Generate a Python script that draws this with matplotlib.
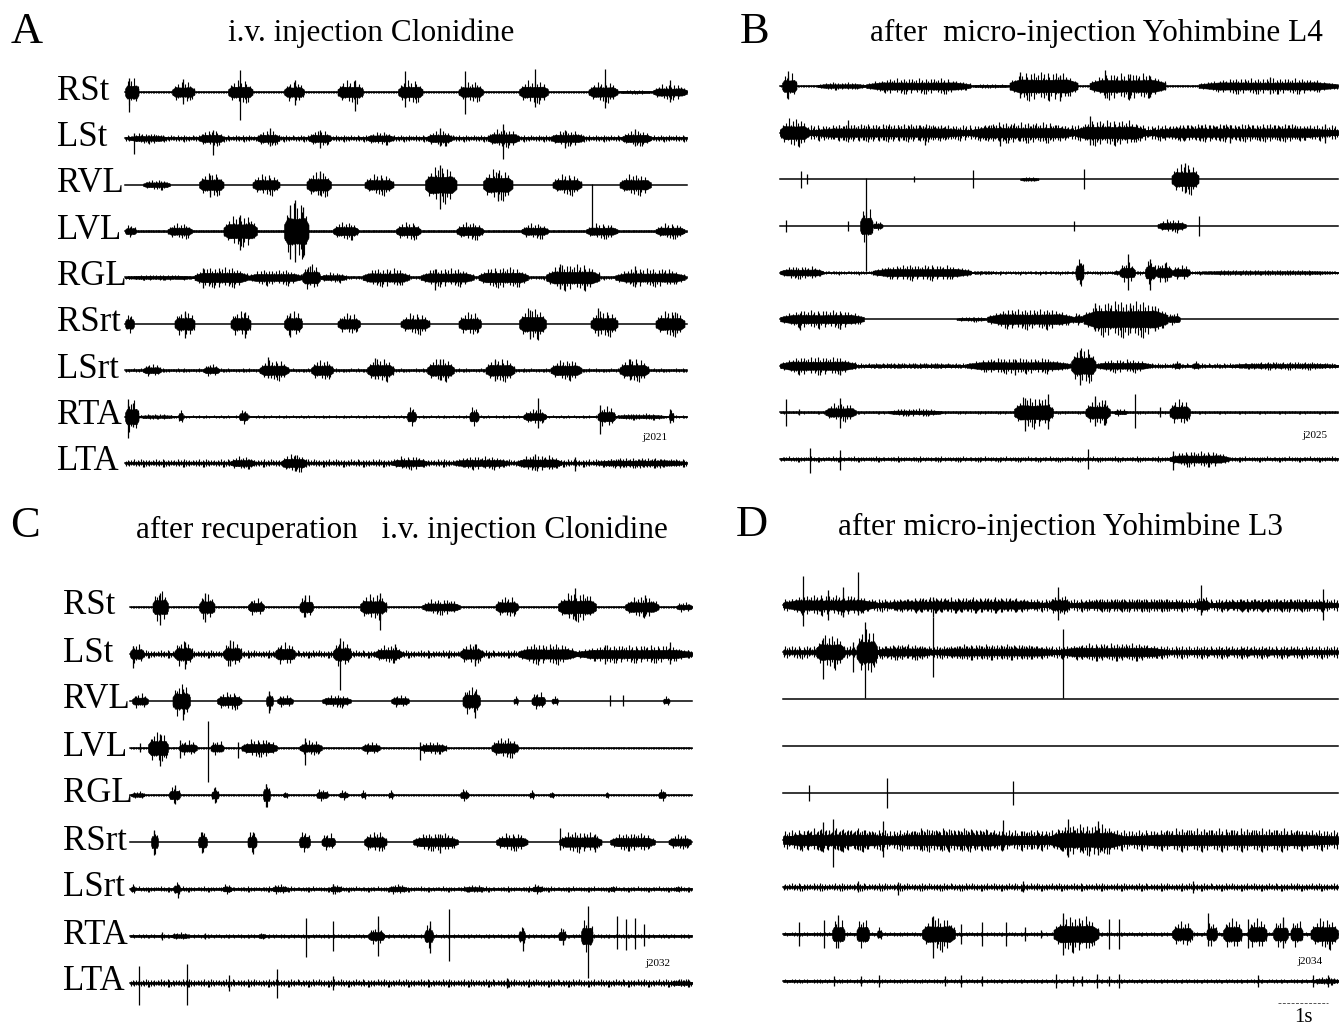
import matplotlib
matplotlib.use("Agg")
import matplotlib.pyplot as plt

plt.rcParams["font.family"] = ["Liberation Serif", "DejaVu Serif"]

W, H = 1342, 1026

channels = ["RSt", "LSt", "RVL", "LVL", "RGL", "RSrt", "LSrt", "RTA", "LTA"]

# record length of each panel, seconds
A_duration = 11.24
B_duration = 11.16
C_duration = 11.24
D_duration = 11.1

# background (tonic) activity of each channel, half height in px
A_tonic = [1.0, 2.5, 0.8, 1.0, 1.5, 0.8, 1.5, 1.0, 3.0]
B_tonic = [1.0, 6.0, 0.7, 0.7, 1.5, 0.7, 2.0, 1.0, 2.0]
C_tonic = [1.0, 3.0, 0.8, 1.0, 1.0, 0.8, 2.0, 1.5, 3.0]
D_tonic = [5.0, 5.0, 0.8, 0.8, 0.8, 8.0, 3.0, 1.5, 1.5]

# bursts: (start s, end s, half amplitude px), one list per channel
A_bursts = [
    [(0.0, 0.27, 11), (0.94, 1.39, 8), (2.06, 2.55, 9), (3.18, 3.58, 8), (4.25, 4.76, 9),
     (5.46, 5.95, 9), (6.67, 7.16, 8), (7.88, 8.46, 9), (9.27, 9.85, 8), (9.85, 10.56, 1.5),
     (10.56, 11.24, 6)],
    [(0.09, 0.81, 4), (1.48, 1.97, 6), (2.64, 3.09, 6), (3.67, 4.12, 6), (4.84, 5.37, 5),
     (6.04, 6.54, 6), (7.25, 7.88, 7), (8.51, 9.18, 6), (9.94, 10.52, 6)],
    [(0.36, 0.9, 4), (1.48, 1.97, 9), (2.55, 3.09, 8), (3.63, 4.12, 10), (4.79, 5.37, 8),
     (6.0, 6.63, 14), (7.16, 7.75, 12), (8.55, 9.13, 8), (9.89, 10.52, 8)],
    [(0.0, 0.22, 5), (0.85, 1.34, 6), (1.97, 2.64, 12), (3.18, 3.67, 22), (4.16, 4.66, 7),
     (5.42, 5.91, 7), (6.63, 7.16, 7), (7.93, 8.46, 6), (9.22, 9.85, 6), (10.61, 11.19, 6)],
    [(0.0, 1.39, 2), (1.39, 2.46, 8), (2.46, 3.54, 6), (3.54, 3.9, 10), (3.9, 4.43, 4),
     (4.75, 5.69, 7), (5.91, 6.98, 7), (7.07, 8.06, 8), (8.42, 9.49, 10), (9.8, 11.2, 7)],
    [(0.0, 0.18, 8), (0.99, 1.39, 10), (2.11, 2.51, 10), (3.18, 3.54, 10), (4.25, 4.7, 8),
     (5.51, 6.09, 8), (6.67, 7.12, 9), (7.88, 8.42, 12), (9.31, 9.85, 10), (10.61, 11.19, 10)],
    [(0.36, 0.72, 5), (1.57, 1.88, 5), (2.69, 3.27, 8), (3.72, 4.16, 8), (4.84, 5.37, 9),
     (6.04, 6.58, 9), (7.21, 7.79, 9), (8.51, 9.13, 8), (9.89, 10.47, 9)],
    [(0.0, 0.27, 13), (0.27, 1.0, 2), (1.07, 1.16, 6), (2.28, 2.46, 6), (5.64, 5.82, 8),
     (6.89, 7.07, 8), (7.97, 8.42, 6), (9.45, 9.8, 8), (9.8, 10.8, 2.5), (10.88, 10.97, 6)],
    [(2.1, 2.6, 5), (3.13, 3.63, 7), (5.33, 6.04, 5), (6.58, 7.66, 5), (7.84, 8.73, 6),
     (9.4, 11.2, 4)],
]
B_bursts = [
    [(0.04, 0.33, 10), (0.74, 1.72, 3), (1.72, 3.81, 6), (3.81, 4.59, 1.5), (4.59, 5.95, 11),
     (6.19, 7.71, 10), (8.37, 11.16, 6)],
    [(0.0, 0.57, 11), (0.57, 3.77, 7), (3.77, 5.91, 8), (5.91, 7.3, 10), (7.3, 11.16, 7)],
    [(4.8, 5.17, 2), (7.83, 8.37, 12)],
    [(1.6, 1.85, 14), (1.85, 2.05, 4), (7.55, 8.12, 5)],
    [(0.0, 0.86, 5), (1.85, 3.82, 6), (3.82, 4.31, 1.5), (5.91, 6.07, 12), (6.66, 6.83, 2),
     (6.79, 7.1, 8), (7.3, 7.51, 10), (7.51, 7.84, 8), (7.84, 8.2, 6), (8.2, 11.16, 2)],
    [(0.0, 1.68, 7), (3.53, 4.14, 2), (4.14, 5.87, 8), (5.87, 6.07, 5), (6.07, 7.75, 14),
     (7.75, 8.0, 5)],
    [(0.0, 1.52, 7), (1.52, 3.73, 2), (3.73, 5.82, 6), (5.82, 6.31, 14), (6.31, 7.42, 5),
     (7.88, 8.0, 4), (8.25, 8.37, 4), (9.0, 11.16, 3)],
    [(0.9, 1.52, 7), (2.17, 3.24, 3), (4.68, 5.46, 12), (6.11, 6.6, 10), (6.68, 6.93, 3),
     (7.79, 8.2, 10)],
    [(7.79, 8.98, 6)],
]
C_bursts = [
    [(0.45, 0.76, 12), (1.38, 1.69, 10), (2.36, 2.68, 7), (3.39, 3.66, 9), (4.6, 5.13, 10),
     (5.84, 6.6, 6), (7.31, 7.76, 8), (8.56, 9.32, 11), (9.9, 10.57, 8), (10.93, 11.24, 4)],
    [(0.0, 0.27, 8), (0.89, 1.25, 10), (1.87, 2.23, 10), (2.9, 3.3, 9), (4.06, 4.42, 10),
     (4.9, 5.44, 7), (6.6, 7.05, 8), (7.76, 8.92, 8), (8.92, 11.24, 7)],
    [(0.04, 0.36, 6), (0.85, 1.2, 13), (1.74, 2.23, 7), (2.72, 2.86, 8), (2.94, 3.26, 5),
     (3.84, 4.42, 5), (5.22, 5.58, 5), (6.65, 7.0, 11), (7.67, 7.76, 4), (8.03, 8.3, 7),
     (8.43, 8.56, 4), (10.66, 10.79, 4)],
    [(0.36, 0.76, 12), (0.98, 1.34, 6), (1.61, 1.87, 6), (2.23, 2.94, 7), (3.39, 3.84, 6),
     (4.64, 5.0, 5), (5.8, 6.33, 5), (7.23, 7.76, 8)],
    [(0.02, 0.29, 3), (0.78, 1.0, 7), (1.63, 1.77, 6), (2.66, 2.8, 10), (3.06, 3.15, 3),
     (3.73, 3.96, 5), (4.18, 4.36, 4), (4.62, 4.71, 4), (5.17, 5.26, 4), (6.6, 6.77, 5),
     (7.99, 8.08, 4), (8.39, 8.48, 3), (9.51, 9.56, 3), (10.57, 10.71, 5)],
    [(0.42, 0.56, 10), (1.36, 1.54, 9), (2.35, 2.53, 9), (3.38, 3.6, 9), (3.83, 4.1, 7),
     (4.68, 5.13, 8), (5.66, 6.56, 7), (7.32, 7.95, 7), (8.58, 9.43, 8), (9.6, 10.5, 7),
     (10.77, 11.22, 6)],
    [(0.02, 0.1, 4), (0.87, 1.0, 6), (1.85, 2.03, 4), (2.84, 3.15, 4), (4.0, 4.23, 4),
     (5.17, 5.53, 4), (6.65, 7.1, 3), (8.04, 8.26, 4), (9.6, 9.7, 3), (10.9, 11.0, 3)],
    [(0.82, 1.18, 3), (2.57, 2.71, 3), (4.77, 5.08, 7), (5.89, 6.06, 10), (7.77, 7.9, 8),
     (8.57, 8.71, 7), (9.02, 9.25, 14)],
    [(10.8, 11.24, 3)],
]
D_bursts = [
    [(0.0, 1.88, 8), (1.88, 5.32, 6), (5.32, 5.73, 8), (5.73, 8.27, 5), (8.27, 8.52, 7),
     (8.52, 11.1, 5)],
    [(0.66, 1.23, 13), (1.47, 1.88, 18), (1.88, 3.0, 6), (3.0, 5.5, 6), (5.5, 7.7, 7),
     (7.7, 11.1, 3)],
    [],
    [],
    [],
    [(0.0, 2.13, 9), (2.13, 4.59, 9), (4.59, 5.32, 7), (5.32, 6.8, 12), (6.8, 11.1, 9)],
    [],
    [(0.98, 1.23, 12), (1.47, 1.72, 12), (1.88, 1.97, 6), (2.78, 3.44, 13), (5.41, 6.31, 14),
     (7.78, 8.19, 10), (8.47, 8.68, 10), (8.8, 9.17, 12), (9.3, 9.67, 12), (9.8, 10.1, 11),
     (10.15, 10.39, 11), (10.55, 11.1, 12)],
    [(10.6, 11.1, 3)],
]

# single large deflections: (time s, up px, down px)
A_spikes = [
    [(0.08, 14, 20), (1.15, 13, 12), (2.3, 22, 28), (3.4, 12, 13), (4.6, 12, 19), (5.6, 21, 15),
     (6.8, 21, 22), (8.2, 23, 15), (9.6, 23, 16), (10.9, 12, 10)],
    [(0.18, 5, 16), (1.75, 8, 17), (2.9, 10, 8), (3.9, 8, 10), (6.3, 10, 8), (7.55, 14, 21),
     (8.8, 8, 10), (10.2, 9, 8)],
    [(1.7, 10, 12), (3.9, 14, 10), (6.3, 20, 24), (7.45, 12, 16), (9.33, 1, 47)],
    [(2.3, 16, 19), (3.3, 26, 28), (3.4, 31, 31), (3.55, 24, 26)],
    [(1.55, 9, 11), (3.7, 11, 8), (6.2, 8, 13), (8.7, 13, 12), (10.2, 11, 9)],
    [(1.2, 12, 14), (2.4, 12, 14), (3.3, 11, 13), (8.1, 14, 15), (9.45, 16, 12), (11.0, 12, 10)],
    [(2.85, 13, 8), (5.0, 12, 9), (6.3, 11, 10), (7.4, 10, 11), (10.1, 11, 10)],
    [(0.05, 18, 21), (0.15, 14, 10), (8.25, 19, 11), (9.5, 12, 17), (10.9, 8, 6)],
    [(3.4, 8, 8), (8.2, 9, 7), (9.0, 6, 8)],
]
B_spikes = [
    [(0.15, 15, 13), (4.8, 14, 12), (5.6, 10, 15), (6.5, 16, 12), (7.0, 12, 12), (7.4, 10, 11),
     (9.8, 9, 8)],
    [(1.35, 13, 6), (2.9, 6, 12), (4.4, 6, 13), (6.2, 17, 12), (9.0, 8, 10), (10.9, 9, 10)],
    [(0.41, 8, 9), (0.53, 5, 5), (2.67, 3, 3), (3.86, 9, 9), (6.07, 10, 10), (8.1, 16, 14)],
    [(0.12, 6, 6), (1.35, 5, 5), (1.72, 48, 45), (5.87, 5, 5), (8.37, 10, 10)],
    [(6.0, 10, 11), (6.95, 19, 17), (7.4, 14, 17), (7.7, 10, 9)],
    [(0.4, 6, 11), (1.2, 5, 10), (6.3, 16, 12), (7.0, 14, 14), (7.5, 13, 12)],
    [(1.2, 4, 9), (4.7, 7, 9), (6.0, 16, 19)],
    [(0.12, 13, 14), (0.37, 3, 3), (1.2, 14, 16), (4.9, 14, 19), (5.35, 18, 17), (6.3, 16, 14),
     (6.5, 12, 13), (7.1, 18, 16), (7.6, 5, 5)],
    [(0.6, 11, 14), (1.19, 9, 11), (6.15, 10, 10), (7.85, 8, 11)],
]
C_spikes = [
    [(0.6, 14, 18), (1.5, 14, 15), (3.5, 12, 10), (5.0, 14, 23), (8.9, 19, 13), (10.3, 12, 9)],
    [(0.05, 8, 14), (1.1, 12, 15), (2.0, 14, 12), (4.2, 16, 36), (5.3, 10, 6), (6.9, 10, 12),
     (9.5, 9, 10), (10.8, 12, 10)],
    [(1.05, 12, 19), (2.78, 10, 12), (6.9, 10, 17), (9.59, 6, 5), (9.86, 6, 5)],
    [(0.2, 5, 4), (0.6, 14, 18), (1.0, 8, 10), (1.55, 27, 34), (2.15, 6, 10), (3.5, 10, 17),
     (5.8, 6, 12)],
    [(0.9, 10, 9), (1.7, 8, 8), (2.72, 11, 12)],
    [(0.47, 12, 13), (1.43, 10, 11), (2.45, 10, 12), (6.2, 8, 11), (8.6, 14, 8), (9.3, 8, 10)],
    [(0.95, 5, 9), (4.05, 5, 5)],
    [(0.64, 4, 4), (1.5, 3, 3), (3.51, 18, 21), (4.05, 15, 15), (4.95, 20, 20), (6.0, 15, 17),
     (6.38, 27, 25), (7.85, 8, 15), (8.65, 7, 9), (9.15, 30, 42), (9.74, 20, 13), (9.92, 17, 14),
     (10.1, 18, 13), (10.28, 12, 10)],
    [(0.18, 17, 22), (1.14, 19, 22), (1.97, 8, 8), (2.93, 14, 15), (4.05, 7, 7), (7.54, 5, 5)],
]
D_spikes = [
    [(0.4, 29, 21), (0.9, 15, 15), (1.2, 18, 12), (1.5, 33, 10), (3.0, 8, 12), (5.5, 18, 15),
     (8.35, 20, 10), (10.8, 16, 15)],
    [(0.8, 14, 27), (1.4, 10, 20), (1.65, 30, 46), (3.0, 35, 25), (5.6, 23, 46)],
    [],
    [],
    [(0.53, 8, 8), (2.09, 15, 15), (4.6, 12, 12)],
    [(0.8, 18, 8), (1.0, 21, 27), (2.0, 19, 17), (4.4, 20, 10), (5.7, 21, 17), (6.3, 19, 15)],
    [(1.5, 6, 5), (2.3, 5, 8), (4.8, 6, 5), (8.2, 6, 6)],
    [(0.33, 12, 12), (0.82, 14, 14), (1.1, 19, 14), (3.0, 18, 24), (3.56, 10, 10), (3.97, 12, 12),
     (4.46, 12, 12), (4.83, 7, 7), (5.16, 4, 4), (5.6, 21, 21), (6.51, 15, 15), (6.72, 15, 15),
     (8.5, 21, 12), (9.3, 15, 14), (10.0, 17, 14)],
    [(1.02, 5, 5), (1.56, 5, 5), (1.92, 6, 6), (3.23, 5, 5), (3.56, 6, 6), (3.97, 5, 5),
     (5.45, 7, 7), (5.79, 5, 5), (5.98, 5, 5), (6.27, 7, 7), (6.51, 5, 5), (6.72, 7, 7),
     (9.5, 6, 6), (10.6, 6, 6), (10.9, 6, 6)],
]

# stroke pattern used to draw a burst as a bundle of vertical strokes (style only)
STROKE_UP = [0.65, 1.15, 0.8, 1.0, 0.55, 1.3, 0.7, 1.05, 0.6, 1.2, 0.85, 0.5, 1.1]
STROKE_DN = [0.9, 0.6, 1.25, 0.7, 1.1, 0.55, 1.0, 1.35, 0.65, 0.8, 1.15, 0.6]
STROKES_PER_S = 30

fig = plt.figure(figsize=(W / 100, H / 100), dpi=100)


def draw_activity(ax, off, s, e, a, taper=True):
    """Draw a stretch of EMG activity as a solid core plus vertical strokes."""
    w = e - s
    n = max(3, int(w * STROKES_PER_S))
    xs, lo, hi = [], [], []
    for j in range(n):
        u = (j + 0.5) / n
        f = min(1.0, 0.35 + 2.6 * min(u, 1 - u)) if taper else 1.0
        xs.append(s + u * w)
        hi.append(off + a * f * STROKE_UP[j % len(STROKE_UP)])
        lo.append(off - a * f * STROKE_DN[(j * 5) % len(STROKE_DN)])
    ax.vlines(xs, lo, hi, color="black", lw=0.8, clip_on=False)
    k = [0.3, 0.6, 0.55, 0.6, 0.3] if taper else [0.45] * 5
    px = [s, s + 0.15 * w, s + 0.5 * w, e - 0.15 * w, e]
    ax.fill_between(px, [off - a * f for f in k], [off + a * f for f in k],
                    color="black", lw=0.4, clip_on=False)


def draw_panel(x0, x1, y_first, y_last, duration, tonic, bursts, spikes):
    """Draw the nine traces of one panel; y units are pixels, row 0 at 0."""
    sp = (y_last - y_first) / 8
    top = y_first - sp
    bottom = y_last + sp
    ax = fig.add_axes([x0 / W, 1 - bottom / H, (x1 - x0) / W, (bottom - top) / H])
    ax.set_xlim(0, duration)
    ax.set_ylim(-(bottom - y_first), y_first - top)
    ax.axis("off")
    for i in range(len(channels)):
        off = -i * sp
        ax.plot([0, duration], [off, off], color="black", lw=1.1, clip_on=False)
        if tonic[i] > 0.9:
            draw_activity(ax, off, 0, duration, tonic[i], taper=False)
        for s, e, a in bursts[i]:
            draw_activity(ax, off, s, e, a)
        for t, up, dn in spikes[i]:
            ax.vlines(t, off - dn, off + up, color="black", lw=0.9, clip_on=False)
    return ax, sp


def label_rows(x, y_first, y_last):
    sp = (y_last - y_first) / 8
    for i, name in enumerate(channels):
        fig.text(x / W, 1 - (y_first + i * sp - 1) / H, name, fontsize=25,
                 ha="left", va="center")


def heading(letter, lx, ly, title, tx, ty):
    fig.text(lx / W, 1 - ly / H, letter, fontsize=32, ha="center", va="center")
    fig.text(tx / W, 1 - ty / H, title, fontsize=22.5, ha="center", va="center")


draw_panel(125, 687, 92, 463, A_duration, A_tonic, A_bursts, A_spikes)
draw_panel(780, 1338, 86, 459, B_duration, B_tonic, B_bursts, B_spikes)
draw_panel(130, 692, 607, 983, C_duration, C_tonic, C_bursts, C_spikes)
axD, spD = draw_panel(783, 1338, 605, 981, D_duration, D_tonic, D_bursts, D_spikes)

label_rows(57, 92, 463)
label_rows(63, 607, 983)

heading("A", 27, 32, "i.v. injection Clonidine", 371, 33)
heading("B", 755, 32, "after  micro-injection Yohimbine L4", 1096, 33)
heading("C", 25, 526, "after recuperation   i.v. injection Clonidine", 402, 530)
heading("D", 752, 525, "after micro-injection Yohimbine L3", 1061, 527)

# record numbers
for txt, x, y in [("j2021", 655, 438), ("j2025", 1315, 436),
                  ("j2032", 658, 963), ("j2034", 1310, 962)]:
    fig.text(x / W, 1 - y / H, txt, fontsize=8, ha="center", va="center")

# 1 s time bar under panel D
bar_start = D_duration - 1.2
axD.plot([bar_start, bar_start + 1.0], [-8 * spD - 22, -8 * spD - 22], color="#555555",
         lw=0.7, ls=(0, (3, 1.5)), clip_on=False)
axD.text(bar_start + 0.5, -8 * spD - 37, "1s", fontsize=15, ha="center", va="center")

fig.savefig("out.png", dpi=100, facecolor="white")
